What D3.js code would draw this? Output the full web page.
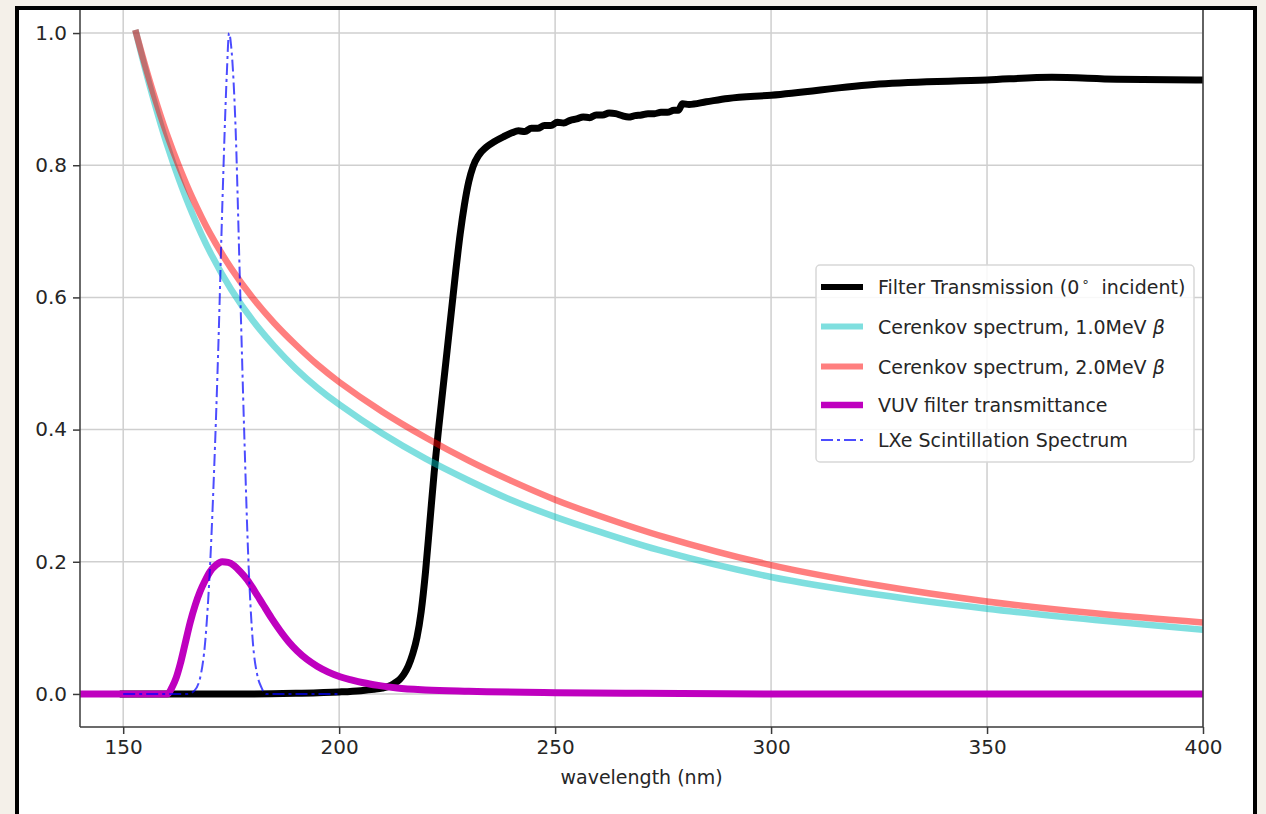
<!DOCTYPE html>
<html><head><meta charset="utf-8">
<script src="https://cdn.jsdelivr.net/npm/d3@7"></script>
<style>body{margin:0;background:#f4f0e9;} svg{display:block}</style>
</head><body><svg id="c" width="1266" height="814"></svg>
<script>
// ---- data ----
const xTicks = [150, 200, 250, 300, 350, 400];
const yTicks = [0.0, 0.2, 0.4, 0.6, 0.8, 1.0];
const xLabel = "wavelength (nm)";
const legendLabels = ["Filter Transmission (0", "Cerenkov spectrum, 1.0MeV ", "Cerenkov spectrum, 2.0MeV ", "VUV filter transmittance", "LXe Scintillation Spectrum"];

const filterWl = [150,160,170,180,190,200,205,208,210,212,213,214,215,216,217,218,219,220,221,222,223,224,225,226,227,228,229,230,231,232.3,234,236,238,240,241.5,243,244.5,246,247.5,249,250.5,252,253.5,255,256.5,258,259.5,261,262.5,264,265.5,267,268.5,270,271.5,273,274.5,276,277.5,278.5,279.5,281,285,290,300,325,350,365,380,400];
const filterT  = [0,0,0,0,0.001,0.003,0.005,0.007,0.009,0.013,0.017,0.022,0.03,0.042,0.06,0.085,0.125,0.185,0.26,0.335,0.40,0.46,0.52,0.58,0.64,0.695,0.74,0.775,0.798,0.815,0.827,0.836,0.843,0.849,0.852,0.851,0.856,0.856,0.860,0.860,0.865,0.864,0.868,0.870,0.873,0.872,0.876,0.876,0.879,0.878,0.875,0.873,0.875,0.876,0.878,0.878,0.880,0.880,0.883,0.883,0.893,0.892,0.896,0.901,0.906,0.923,0.929,0.933,0.930,0.929];

const cer1Wl = [153,155,157,160,163,166,170,175,180,185,190,195,200,210,220,230,240,250,260,275,300,325,350,375,400];
const cer1V  = [1.0,0.948,0.900,0.834,0.777,0.727,0.670,0.612,0.565,0.526,0.492,0.463,0.438,0.394,0.356,0.323,0.293,0.268,0.246,0.216,0.177,0.150,0.129,0.112,0.097];

const cer2Wl = [153,155,157,160,163,166,170,175,180,185,190,195,200,210,220,230,240,250,260,275,300,325,350,375,400];
const cer2V  = [1.0,0.953,0.909,0.849,0.797,0.751,0.698,0.644,0.599,0.561,0.528,0.498,0.472,0.427,0.388,0.353,0.322,0.294,0.270,0.238,0.195,0.164,0.140,0.122,0.108];

const vuvWl = [140,150,160.3,161.3,162.3,163.2,164.3,165.5,166.7,167.8,169,170.1,171.5,172.9,174.3,175.7,177.1,178.8,180.5,182.4,184.3,186.3,188.3,190.3,192.6,194.9,197.5,200.2,203,205.6,209,213.4,220,230,250,270,300,400];
const vuvT  = [0,0,0,0.01,0.025,0.045,0.075,0.108,0.135,0.155,0.172,0.185,0.195,0.2,0.199,0.194,0.185,0.172,0.155,0.135,0.115,0.096,0.079,0.065,0.052,0.042,0.033,0.026,0.021,0.017,0.013,0.009,0.006,0.004,0.002,0.001,0,0];

const lxeWl = [150,160,165,166.5,168,169,170,171,172,173,174,174.5,175,176,177,178,179,180,181,182,183,190,200];
const lxeV  = [0,0,0,0.005,0.03,0.08,0.18,0.33,0.52,0.75,0.94,1.0,0.98,0.86,0.63,0.40,0.20,0.08,0.03,0.01,0,0,0];

// ---- layout ----
const svg = d3.select("#c");
const font = "DejaVu Sans";
const L = 80, R = 1203, T = 0, B = 727;
const x = d3.scaleLinear().domain([140, 400]).range([L, R]);
const y = d3.scaleLinear().domain([-0.05, 1.05]).range([B, T]);

svg.append("rect").attr("x", 17).attr("y", 8).attr("width", 1238).attr("height", 900)
  .attr("fill", "#ffffff");

const defs = svg.append("defs");
defs.append("clipPath").attr("id", "pc").append("rect")
  .attr("x", L).attr("y", 9).attr("width", R - L).attr("height", B - 9);

// grid
const g = svg.append("g");
g.selectAll(".gx").data(xTicks).enter().append("line")
  .attr("x1", d => x(d)).attr("x2", d => x(d)).attr("y1", 9).attr("y2", B)
  .attr("stroke", "#cfcfcf").attr("stroke-width", 1.5);
g.selectAll(".gy").data(yTicks).enter().append("line")
  .attr("x1", L).attr("x2", R).attr("y1", d => y(d)).attr("y2", d => y(d))
  .attr("stroke", "#cfcfcf").attr("stroke-width", 1.5);

// series
const plot = svg.append("g").attr("clip-path", "url(#pc)");
function series(wl, v, color, width, opacity, curve, dash) {
  const data = wl.map((w, i) => [w, v[i]]);
  const line = d3.line().x(d => x(d[0])).y(d => y(d[1])).curve(curve);
  const p = plot.append("path").datum(data).attr("d", line)
    .attr("fill", "none").attr("stroke", color).attr("stroke-width", width)
    .attr("stroke-opacity", opacity).attr("stroke-linejoin", "round").attr("stroke-linecap", dash ? "butt" : "square");
  if (dash) p.attr("stroke-dasharray", dash);
}
series(filterWl, filterT, "#000000", 7, 1, d3.curveMonotoneX);
series(cer1Wl, cer1V, "#00bfbf", 6.5, 0.5, d3.curveCatmullRom);
series(cer2Wl, cer2V, "#ff0000", 6.5, 0.5, d3.curveCatmullRom);
series(vuvWl, vuvT, "#bf00bf", 7, 1, d3.curveMonotoneX);
series(lxeWl, lxeV, "#0000ff", 2, 0.7, d3.curveMonotoneX, "12,4,3,4");

// axes spines
const ax = svg.append("g");
ax.append("line").attr("x1", L).attr("x2", L).attr("y1", 9).attr("y2", B).attr("stroke", "#3a3a3a").attr("stroke-width", 1.5);
ax.append("line").attr("x1", R).attr("x2", R).attr("y1", 9).attr("y2", B).attr("stroke", "#3a3a3a").attr("stroke-width", 1.5);
ax.append("line").attr("x1", L).attr("x2", R).attr("y1", B).attr("y2", B).attr("stroke", "#3a3a3a").attr("stroke-width", 1.5);

const xAxis = d3.axisBottom(x).tickValues(xTicks).tickSize(7).tickPadding(6).tickFormat(d3.format("d"));
const xg = svg.append("g").attr("transform", `translate(0,${B})`).call(xAxis);
xg.select(".domain").remove();
xg.selectAll("line").attr("stroke", "#3a3a3a").attr("stroke-width", 1.5);
xg.selectAll("text").attr("font-family", font).attr("font-size", 20).attr("fill", "#262626");

const yAxis = d3.axisLeft(y).tickValues(yTicks).tickSize(7).tickPadding(6).tickFormat(d3.format(".1f"));
const yg = svg.append("g").attr("transform", `translate(${L},0)`).call(yAxis);
yg.select(".domain").remove();
yg.selectAll("line").attr("stroke", "#3a3a3a").attr("stroke-width", 1.5);
yg.selectAll("text").attr("font-family", font).attr("font-size", 20).attr("fill", "#262626");

svg.append("text").attr("x", (L + R) / 2).attr("y", 784).attr("text-anchor", "middle")
  .attr("font-family", font).attr("font-size", 19).attr("fill", "#262626").text(xLabel);

// legend
const lg = svg.append("g");
lg.append("rect").attr("x", 816).attr("y", 265).attr("width", 378).attr("height", 197).attr("rx", 4)
  .attr("fill", "#ffffff").attr("fill-opacity", 0.85).attr("stroke", "#d8d8d8").attr("stroke-width", 1.5);
const rowsY = [287, 326.5, 366.5, 405, 440];
const styles = [
  {c: "#000000", w: 6, o: 1},
  {c: "#00bfbf", w: 6, o: 0.5},
  {c: "#ff0000", w: 6, o: 0.5},
  {c: "#bf00bf", w: 6.5, o: 1},
  {c: "#0000ff", w: 2, o: 0.7, d: "12,4,3,4"}
];
legendLabels.forEach((lab, i) => {
  const s = styles[i];
  const ln = lg.append("line").attr("x1", 821).attr("x2", 863).attr("y1", rowsY[i]).attr("y2", rowsY[i])
    .attr("stroke", s.c).attr("stroke-width", s.w).attr("stroke-opacity", s.o);
  if (s.d) ln.attr("stroke-dasharray", s.d);
  const t = lg.append("text").attr("x", 878).attr("y", rowsY[i] + 7)
    .attr("font-family", font).attr("font-size", 19).attr("fill", "#262626");
  t.append("tspan").text(lab);
  if (i === 0) {
    t.append("tspan").attr("dx", 2).attr("dy", -8).attr("font-size", 13).text("\u2218");
    t.append("tspan").attr("dy", 8).text("\u00a0\u00a0incident)");
  } else if (i === 1 || i === 2) {
    t.append("tspan").attr("font-style", "italic").text("\u03b2");
  }
});

svg.append("rect").attr("x", 17).attr("y", 8).attr("width", 1238).attr("height", 900)
  .attr("fill", "none").attr("stroke", "#000").attr("stroke-width", 4);
</script>
</body></html>
